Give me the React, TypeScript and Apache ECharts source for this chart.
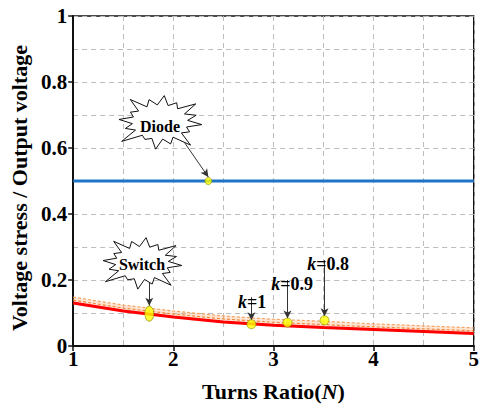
import React, { useEffect, useRef } from "react";
import * as echarts from "echarts";

const turnsRatio = [1, 1.5, 2, 2.5, 3, 3.5, 4, 4.5, 5];
const switchK1 = [0.13, 0.106, 0.088, 0.073, 0.063, 0.056, 0.05, 0.044, 0.038];
const switchK09 = [0.139, 0.115, 0.097, 0.082, 0.072, 0.065, 0.058, 0.052, 0.046];
const switchK08 = [0.148, 0.124, 0.106, 0.091, 0.081, 0.075, 0.067, 0.061, 0.055];
const diodeStress = [0.5, 0.5, 0.5, 0.5, 0.5, 0.5, 0.5, 0.5, 0.5];

const markerPoints: [number, number, string][] = [
  [2.35, 0.5, "Diode"],
  [1.76, 0.098, "Switch"],
  [2.78, 0.066, "k=1"],
  [3.14, 0.071, "k=0.9"],
  [3.51, 0.078, "k=0.8"],
];
const arrowStarts: [number, number][] = [
  [2.04, 0.648],
  [1.76, 0.235],
  [2.78, 0.148],
  [3.14, 0.2],
  [3.51, 0.26],
];

const FONT = "Liberation Serif";

function burst(cx: number, cy: number, rx: number, ry: number) {
  const jitter = [1.0, 0.8, 1.15, 0.88, 1.05, 0.76, 1.18, 0.86, 0.98, 0.8, 1.12, 0.9, 1.02, 0.84, 1.1, 0.9];
  const n = 16;
  const pts: number[][] = [];
  for (let i = 0; i < n * 2; i++) {
    const a = (Math.PI * 2 * i) / (n * 2) + 0.1;
    const outer = i % 2 === 0;
    const f = outer ? jitter[(i / 2) % jitter.length] : 0.66;
    pts.push([cx + Math.cos(a) * rx * f, cy + Math.sin(a) * ry * f]);
  }
  return pts;
}

export default function App() {
  const ref = useRef<HTMLDivElement>(null);
  useEffect(() => {
    if (!ref.current) return;
    const chart = echarts.init(ref.current, null, { renderer: "svg" });
    const pair = (arr: number[]) => turnsRatio.map((x, i) => [x, arr[i]]);
    const axisLabel = { fontFamily: FONT, fontWeight: "bold", fontSize: 21, color: "#000" };
    const dash = { type: [5, 4], color: "#bdbdbd", width: 1 };
    const kText = (label: string) => "{i|k}" + label.slice(1);

    chart.setOption({
      animation: false,
      textStyle: { fontFamily: FONT },
      grid: { left: 71, right: 6, top: 16, bottom: 46, show: true, borderColor: "#111", borderWidth: 1.5, backgroundColor: "transparent" },
      xAxis: {
        type: "value",
        min: 1,
        max: 5,
        interval: 1,
        name: "Turns Ratio({n|N})",
        nameLocation: "middle",
        nameGap: 34,
        nameTextStyle: {
          fontFamily: FONT, fontWeight: "bold", fontSize: 22, color: "#000",
          rich: { n: { fontFamily: FONT, fontWeight: "bold", fontStyle: "italic", fontSize: 22, color: "#000" } },
        },
        axisLine: { lineStyle: { color: "#111", width: 2 } },
        axisTick: { inside: false, length: 5, lineStyle: { color: "#111", width: 1.5 } },
        axisLabel: { ...axisLabel, margin: 2 },
        splitLine: { show: true, lineStyle: dash },
        minorTick: { show: false, splitNumber: 2 },
        minorSplitLine: { show: true, lineStyle: dash },
      },
      yAxis: {
        type: "value",
        min: 0,
        max: 1,
        interval: 0.2,
        name: "Voltage stress / Output voltage",
        nameLocation: "middle",
        nameGap: 42,
        nameTextStyle: { fontFamily: FONT, fontWeight: "bold", fontSize: 22, color: "#000", padding: [0, 14, 0, 0] },
        axisLine: { lineStyle: { color: "#111", width: 2 } },
        axisTick: { inside: false, length: 5, lineStyle: { color: "#111", width: 1.5 } },
        axisLabel: { ...axisLabel, margin: 6 },
        splitLine: { show: true, lineStyle: dash },
        minorTick: { show: false, splitNumber: 2 },
        minorSplitLine: { show: true, lineStyle: dash },
      },
      series: [
        {
          type: "custom",
          silent: true,
          data: [0],
          z: 1,
          renderItem: (_params: any, api: any) => {
            const upper = turnsRatio.map((x, i) => api.coord([x, switchK08[i]]));
            const lower = turnsRatio.map((x, i) => api.coord([x, switchK1[i]])).reverse();
            return {
              type: "polygon",
              shape: { points: upper.concat(lower) },
              style: { fill: "rgba(255,170,110,0.3)", stroke: "none" },
            };
          },
        },
        {
          type: "line", data: pair(switchK08), symbol: "none",
          lineStyle: { color: "#f5a463", width: 1.2, type: [3, 2] },
        },
        {
          type: "line", data: pair(switchK09), symbol: "none",
          lineStyle: { color: "#f08a40", width: 1.2, type: [3, 2] },
        },
        {
          type: "line", data: pair(switchK1), symbol: "none",
          lineStyle: { color: "#ff0000", width: 3 },
        },
        {
          type: "line", data: pair(diodeStress), symbol: "none",
          lineStyle: { color: "#1f74c8", width: 3 },
        },
        {
          type: "scatter",
          data: markerPoints.map((p) => ({
            value: [p[0], p[1]],
            symbolSize: p[2] === "Switch" ? [9, 15] : p[2] === "Diode" ? 7 : 9,
          })),
          itemStyle: { color: "#ffff00", borderColor: "#8a8a00", borderWidth: 0.8 },
          z: 5,
          markLine: {
            silent: true,
            symbol: ["none", "arrow"],
            symbolSize: [6, 8],
            label: { show: false },
            lineStyle: { color: "#333", width: 1, type: "solid" },
            data: markerPoints.map((p, i) => [
              { coord: arrowStarts[i] },
              { coord: [p[0], p[1] + (p[2] === "Switch" ? 0.024 : 0.012)] },
            ]),
          },
        },
      ],
      graphic: [
        { type: "polygon", shape: { points: burst(160, 122, 42, 26) }, style: { fill: "#fff", stroke: "#111", lineWidth: 1 }, z: 10 },
        { type: "text", x: 160, y: 126, style: { text: "Diode", align: "center", verticalAlign: "middle", fontFamily: FONT, fontWeight: "bold", fontSize: 16, fill: "#000" }, z: 11 },
        { type: "polygon", shape: { points: burst(142, 263, 40, 25) }, style: { fill: "#fff", stroke: "#111", lineWidth: 1 }, z: 10 },
        { type: "text", x: 142, y: 264, style: { text: "Switch", align: "center", verticalAlign: "middle", fontFamily: FONT, fontWeight: "bold", fontSize: 16, fill: "#000" }, z: 11 },
        ...markerPoints.slice(2).map((p, i) => ({
          type: "text",
          x: [252, 292, 328][i],
          y: [302, 284, 264][i],
          style: {
            text: kText(p[2]),
            align: "center",
            verticalAlign: "middle",
            fontFamily: FONT,
            fontWeight: "bold",
            fontSize: 18,
            fill: "#000",
            rich: { i: { fontStyle: "italic", fontWeight: "bold", fontSize: 18, fontFamily: FONT, fill: "#000" } },
          },
          z: 11,
        })),
      ],
    });
    return () => chart.dispose();
  }, []);
  return <div ref={ref} style={{ position: "absolute", left: 0, top: 0, width: 482, height: 407 }} />;
}
